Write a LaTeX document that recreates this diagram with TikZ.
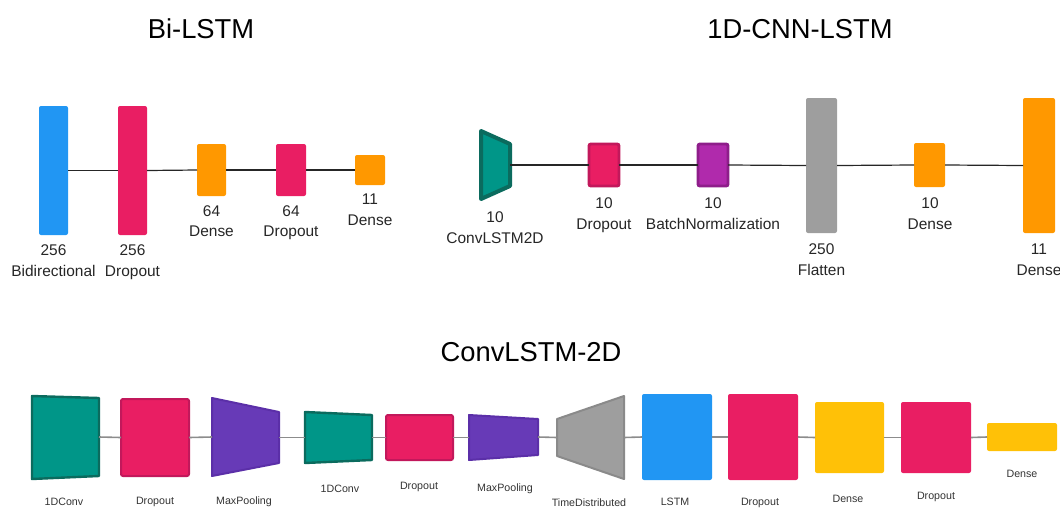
\documentclass[tikz,border=0pt]{standalone}
\usepackage{fontspec}
\setmainfont{Liberation Sans}
\definecolor{cblue}{HTML}{2196F3}
\definecolor{cpink}{HTML}{E91E63}
\definecolor{cpinkd}{HTML}{C2185B}
\definecolor{corange}{HTML}{FF9800}
\definecolor{cgray}{HTML}{9E9E9E}
\definecolor{cgrayd}{HTML}{8A8A8A}
\definecolor{cteal}{HTML}{009688}
\definecolor{ctealdk}{HTML}{0B6B5E}
\definecolor{cpurp}{HTML}{673AB7}
\definecolor{cpurpd}{HTML}{5B2FA8}
\definecolor{cmag}{HTML}{B02AAC}
\definecolor{cmagd}{HTML}{8E1E8A}
\definecolor{cyel}{HTML}{FFC107}
\tikzset{
 box/.style={inner sep=0pt, outer sep=0pt, rounded corners=1.5pt},
 lbl/.style={inner sep=0pt, anchor=base, font=\fontsize{11.6}{14}\selectfont, text=black!85},
 slbl/.style={inner sep=0pt, anchor=base, font=\fontsize{8}{10}\selectfont, text=black!80},
 ttl/.style={inner sep=0pt, anchor=base, font=\fontsize{20.5}{24}\selectfont, text=black},
 link/.style={draw=black!85, line width=0.9pt},
 glink/.style={draw=black!45, line width=1.2pt},
}
\newcommand\bx[6]{\node[box,#6,minimum width={(#4-#2)*0.75pt},minimum height={(#5-#3)*0.75pt}] (#1) at ({(#2+#4)/2},{(#3+#5)/2}) {};}
\newcommand\trp[8]{\path[#8] (#2,#4) -- (#3,#6) -- (#3,#7) -- (#2,#5) -- cycle;
 \coordinate (#1-w) at (#2,{(#4+#5)/2}); \coordinate (#1-e) at (#3,{(#6+#7)/2});}
\begin{document}
\begin{tikzpicture}[x=0.75pt,y=-0.75pt]
\useasboundingbox (0,0) rectangle (1060,508);
% ---------- Bi-LSTM ----------
\node[ttl] (tA) at (201,38) {Bi-LSTM};
\bx{a1}{39}{106}{68}{235}{fill=cblue}
\bx{a2}{118}{106}{147}{235}{fill=cpink}
\bx{a3}{197}{144}{226}{196}{fill=corange}
\bx{a4}{276}{144}{306}{196}{fill=cpink}
\bx{a5}{355}{155}{385}{185}{fill=corange}
\draw[link] (a1.east) -- (a2.west);
\draw[link] (a2.east) -- (a3.west);
\draw[link] (a3.east) -- (a4.west);
\draw[link] (a4.east) -- (a5.west);
\node[lbl] (a1n) at (53.5,255) {256};
\node[lbl] (a1l) at (53.5,276) {Bidirectional};
\node[lbl] (a2n) at (132.5,255) {256};
\node[lbl] (a2l) at (132.5,276) {Dropout};
\node[lbl] (a3n) at (211.5,216) {64};
\node[lbl] (a3l) at (211.5,236) {Dense};
\node[lbl] (a4n) at (291,216) {64};
\node[lbl] (a4l) at (291,236) {Dropout};
\node[lbl] (a5n) at (370,204) {11};
\node[lbl] (a5l) at (370,225) {Dense};
% ---------- 1D-CNN-LSTM ----------
\node[ttl] (tB) at (800,38) {1D-CNN-LSTM};
\trp{b1}{481}{510}{131}{199}{144}{186}{fill=cteal,draw=ctealdk,line width=3pt,line join=round}
\bx{b2}{589}{144}{619}{186}{fill=cpink,draw=cpinkd,line width=2.2pt}
\bx{b3}{698}{144}{728}{186}{fill=cmag,draw=cmagd,line width=2.2pt}
\bx{b4}{806}{98}{837}{233}{fill=cgray}
\bx{b5}{914}{143}{945}{187}{fill=corange}
\bx{b6}{1023}{98}{1055}{233}{fill=corange}
\draw[link] (b1-e) -- (b2.west);
\draw[link] (b2.east) -- (b3.west);
\draw[link] (b3.east) -- (b4.west);
\draw[link] (b4.east) -- (b5.west);
\draw[link] (b5.east) -- (b6.west);
\node[lbl] (b1n) at (495,222) {10};
\node[lbl] (b1l) at (495,243) {ConvLSTM2D};
\node[lbl] (b2n) at (604,208) {10};
\node[lbl] (b2l) at (604,229) {Dropout};
\node[lbl] (b3n) at (713,208) {10};
\node[lbl] (b3l) at (713,229) {BatchNormalization};
\node[lbl] (b4n) at (821.5,254) {250};
\node[lbl] (b4l) at (821.5,275) {Flatten};
\node[lbl] (b5n) at (930,208) {10};
\node[lbl] (b5l) at (930,229) {Dense};
\node[lbl] (b6n) at (1039,254) {11};
\node[lbl] (b6l) at (1039,275) {Dense};
% ---------- ConvLSTM-2D ----------
\node[ttl] (tC) at (531,361) {ConvLSTM-2D};
\trp{c1}{32}{99}{396}{479}{398}{476}{fill=cteal,draw=ctealdk,line width=1.8pt,line join=round}
\bx{c2}{121}{399}{189}{476}{fill=cpink,draw=cpinkd,line width=1.5pt}
\trp{c3}{212}{279}{398}{476}{412}{463}{fill=cpurp,draw=cpurpd,line width=1.5pt,line join=round}
\trp{c4}{305}{372}{412}{463}{415}{460}{fill=cteal,draw=ctealdk,line width=1.8pt,line join=round}
\bx{c5}{386}{415}{453}{460}{fill=cpink,draw=cpinkd,line width=1.5pt}
\trp{c6}{469}{538}{415}{460}{419}{455}{fill=cpurp,draw=cpurpd,line width=1.5pt,line join=round}
\trp{c7}{557}{624}{419}{456}{396}{479}{fill=cgray,draw=cgrayd,line width=1.5pt,line join=round}
\bx{c8}{642}{394}{712}{480}{fill=cblue}
\bx{c9}{728}{394}{798}{480}{fill=cpink}
\bx{c10}{815}{402}{884}{473}{fill=cyel}
\bx{c11}{901}{402}{971}{473}{fill=cpink}
\bx{c12}{987}{423}{1057}{451}{fill=cyel}
\draw[glink] (c1-e) -- (c2.west);
\draw[glink] (c2.east) -- (c3-w);
\draw[glink] (c3-e) -- (c4-w);
\draw[glink] (c4-e) -- (c5.west);
\draw[glink] (c5.east) -- (c6-w);
\draw[glink] (c6-e) -- (c7-w);
\draw[glink] (c7-e) -- (c8.west);
\draw[glink] (c8.east) -- (c9.west);
\draw[glink] (c9.east) -- (c10.west);
\draw[glink] (c10.east) -- (c11.west);
\draw[glink] (c11.east) -- (c12.west);
\node[slbl] (c1l) at (64,505) {1DConv};
\node[slbl] (c2l) at (155,504) {Dropout};
\node[slbl] (c3l) at (244,504) {MaxPooling};
\node[slbl] (c4l) at (340,492) {1DConv};
\node[slbl] (c5l) at (419,489) {Dropout};
\node[slbl] (c6l) at (505,491) {MaxPooling};
\node[slbl] (c7l) at (589,506) {TimeDistributed};
\node[slbl] (c8l) at (675,505) {LSTM};
\node[slbl] (c9l) at (760,505) {Dropout};
\node[slbl] (c10l) at (848,502) {Dense};
\node[slbl] (c11l) at (936,499) {Dropout};
\node[slbl] (c12l) at (1022,477) {Dense};
\end{tikzpicture}
\end{document}
